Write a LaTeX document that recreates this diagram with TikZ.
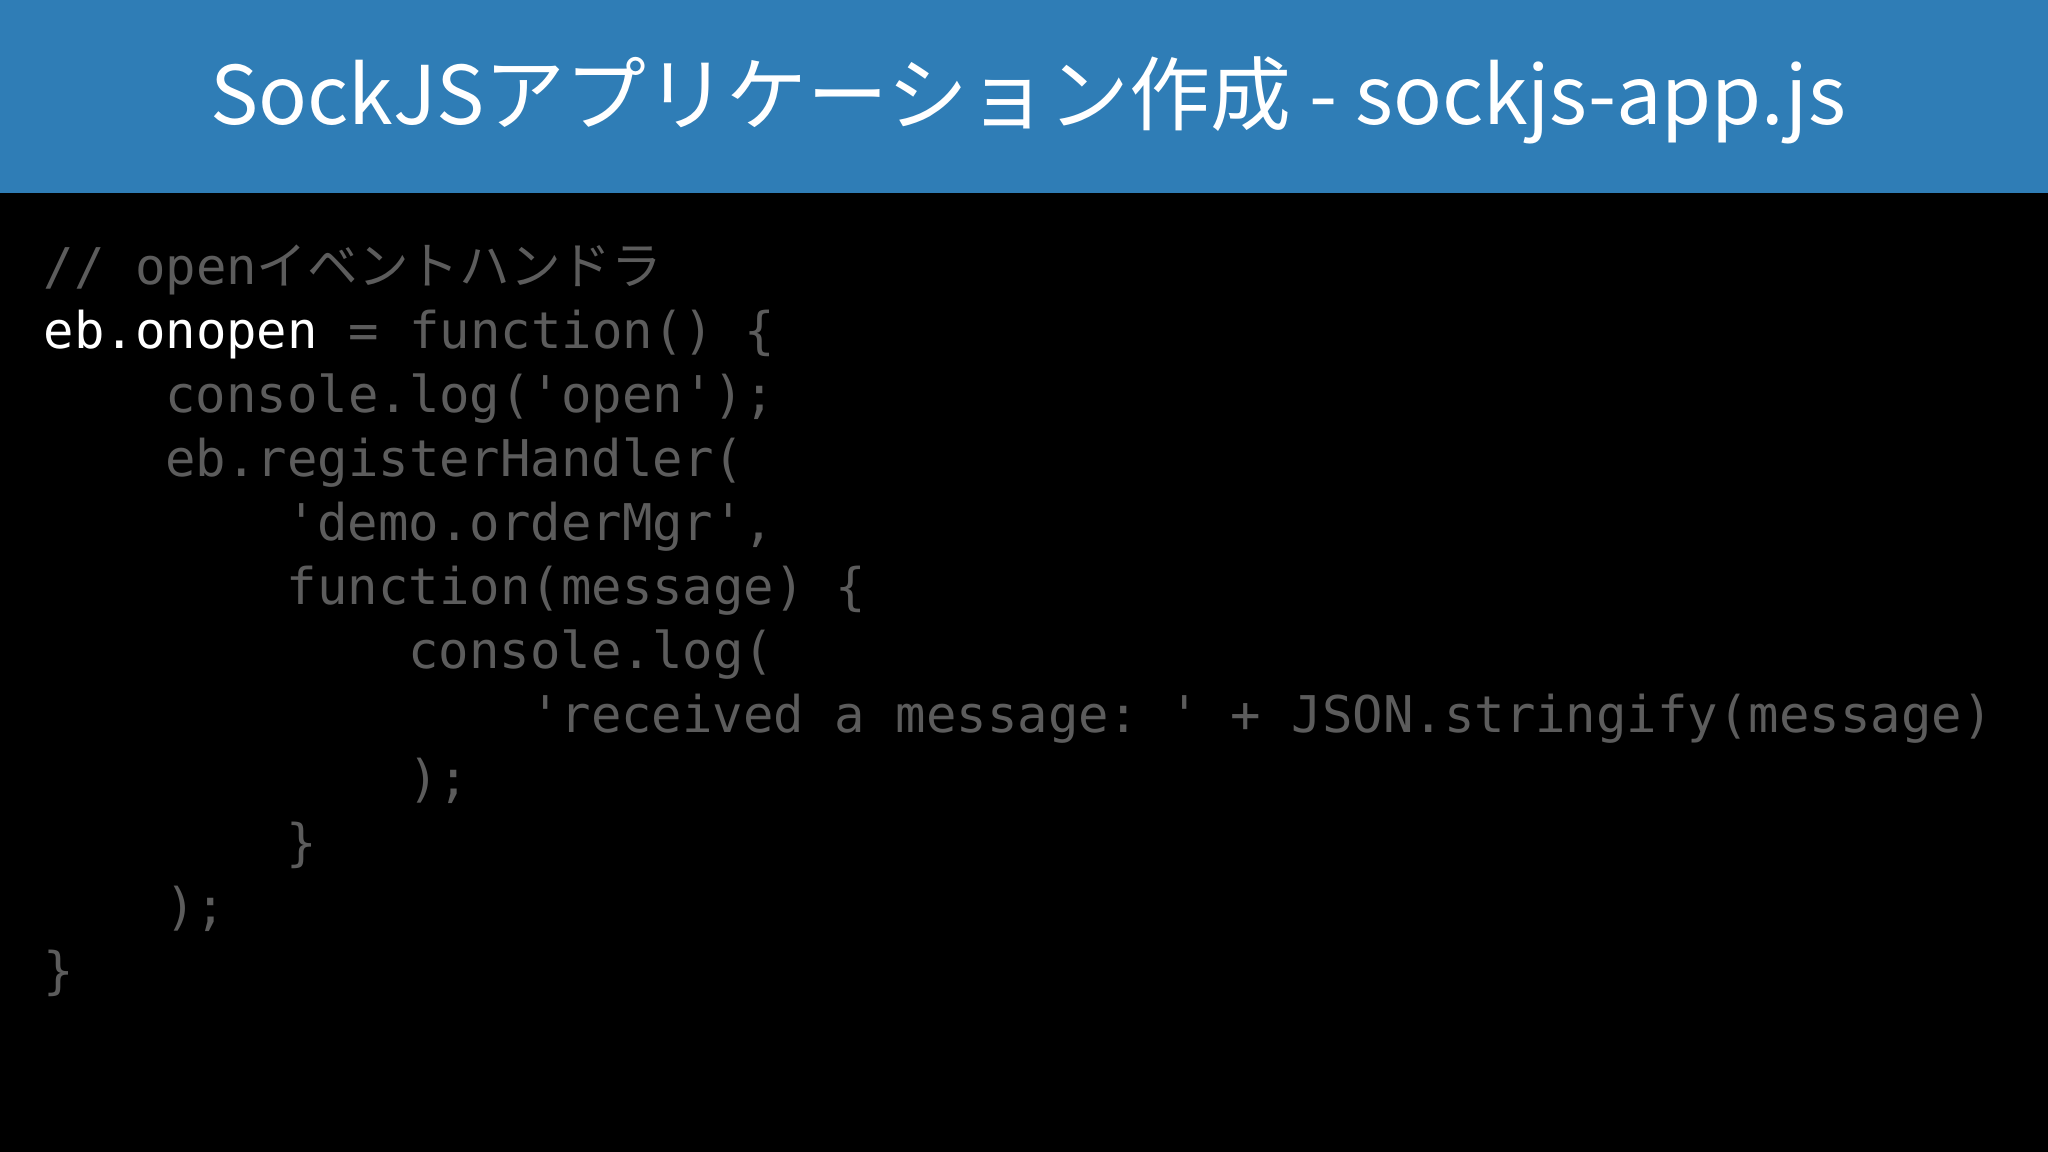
\documentclass[tikz,border=0pt]{standalone}
\usepackage{fontspec}
\setmonofont{DejaVu Sans Mono}
\newfontfamily\cjk{Noto Sans CJK JP}
\definecolor{hdr}{HTML}{2F7DB6}
\definecolor{codegray}{HTML}{5C5C5C}
\tikzset{codeline/.style={anchor=base west,inner sep=0,text=codegray,font=\ttfamily\fontsize{14.4pt}{17pt}\selectfont}}
\begin{document}
\begin{tikzpicture}[x=1cm,y=1cm]
\fill[black] (0,0) rectangle (20.48,11.52);
\useasboundingbox (0,0) rectangle (20.48,11.52);
\fill[hdr] (0,9.59) rectangle (20.48,11.52);
\node[text=white,font=\cjk\fontsize{23pt}{27pt}\selectfont] (title) at (10.28,10.52) {SockJSアプリケーション作成 - sockjs-app.js};
\def\cw{0.304}
\def\lh{0.64}
\node[codeline] (l0) at (0.43,8.67) {// open{\cjk イベントハンドラ}};
\node[codeline] (l1) at (0.43,8.67-\lh) {\textcolor{white}{eb.onopen} = function() \{};
\node[codeline] (l2) at (0.43+4*\cw,8.67-2*\lh) {console.log('open');};
\node[codeline] (l3) at (0.43+4*\cw,8.67-3*\lh) {eb.registerHandler(};
\node[codeline] (l4) at (0.43+8*\cw,8.67-4*\lh) {'demo.orderMgr',};
\node[codeline] (l5) at (0.43+8*\cw,8.67-5*\lh) {function(message) \{};
\node[codeline] (l6) at (0.43+12*\cw,8.67-6*\lh) {console.log(};
\node[codeline] (l7) at (0.43+16*\cw,8.67-7*\lh) {'received a message: ' + JSON.stringify(message)};
\node[codeline] (l8) at (0.43+12*\cw,8.67-8*\lh) {);};
\node[codeline] (l9) at (0.43+8*\cw,8.67-9*\lh) {\}};
\node[codeline] (l10) at (0.43+4*\cw,8.67-10*\lh) {);};
\node[codeline] (l11) at (0.43,8.67-11*\lh) {\}};
\end{tikzpicture}
\end{document}
